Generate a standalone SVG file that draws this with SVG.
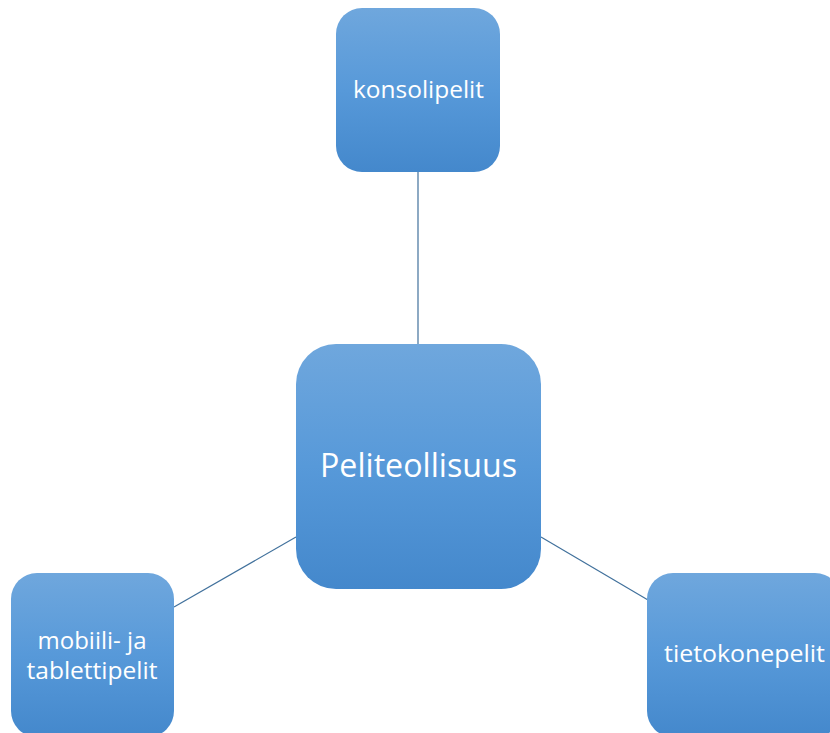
<svg xmlns="http://www.w3.org/2000/svg" width="830" height="733" viewBox="0 0 830 733">
<defs>
<linearGradient id="g" x1="0" y1="0" x2="0" y2="1">
<stop offset="0" stop-color="#6fa7dd"/>
<stop offset="0.5" stop-color="#5799d9"/>
<stop offset="1" stop-color="#4488cc"/>
</linearGradient>
<style>
.box{fill:url(#g);}
.t{fill:#ffffff;font-family:"Open Sans","Noto Sans","Liberation Sans",sans-serif;text-anchor:middle;}
.c{stroke:#41719c;stroke-width:1.2;fill:none;}
</style>
</defs>
<rect width="830" height="733" fill="#ffffff"/>
<g id="connectors">
<line class="c" x1="418" y1="172" x2="418" y2="344"/>
<line class="c" x1="296" y1="537" x2="174" y2="607"/>
<line class="c" x1="541" y1="537" x2="648" y2="600"/>
</g>
<g id="node-center">
<rect class="box" x="296" y="344" width="245" height="245" rx="40" ry="40"/>
<text class="t" x="418.5" y="477" font-size="33" textLength="197" lengthAdjust="spacingAndGlyphs">Peliteollisuus</text>
</g>
<g id="node-konsolipelit">
<rect class="box" x="336" y="8" width="164" height="164" rx="26" ry="26"/>
<text class="t" x="418.5" y="98" font-size="23" textLength="131" lengthAdjust="spacingAndGlyphs">konsolipelit</text>
</g>
<g id="node-mobiili">
<rect class="box" x="11" y="573" width="163" height="164" rx="26" ry="26"/>
<text class="t" x="92" y="649" font-size="23" textLength="109" lengthAdjust="spacingAndGlyphs">mobiili- ja</text>
<text class="t" x="92" y="679" font-size="23" textLength="131" lengthAdjust="spacingAndGlyphs">tablettipelit</text>
</g>
<g id="node-tietokonepelit">
<rect class="box" x="647" y="573" width="194" height="164" rx="26" ry="26"/>
<text class="t" x="744.5" y="662" font-size="23" textLength="161" lengthAdjust="spacingAndGlyphs">tietokonepelit</text>
</g>
</svg>
